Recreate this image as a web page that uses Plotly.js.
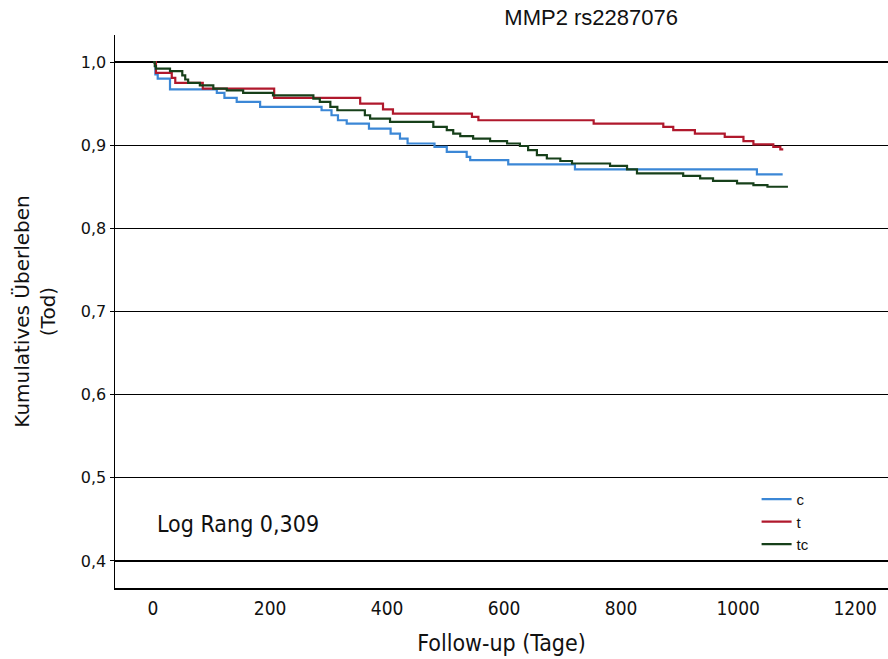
<!DOCTYPE html>
<html>
<head>
<meta charset="utf-8">
<script src="https://cdn.plot.ly/plotly-3.0.1.min.js"></script>
<style>
  html, body { margin: 0; padding: 0; background: #ffffff; }
  #chart { width: 888px; height: 659px; }
</style>
</head>
<body>
<div id="chart"></div>
<script>
// ---- data ----
const seriesNames = ["c", "t", "tc"];

const cDays = [0, 4, 8, 29, 109, 122, 143, 183, 288, 305, 316, 331, 369, 406, 422, 435, 481, 502, 536, 542, 607, 721, 1032, 1076];
const cSurv = [1.0, 0.985, 0.980, 0.967, 0.963, 0.957, 0.952, 0.946, 0.942, 0.936, 0.930, 0.926, 0.920, 0.914, 0.908, 0.902, 0.898, 0.892, 0.886, 0.882, 0.877, 0.871, 0.865, 0.865];

const tDays = [0, 5, 32, 38, 85, 207, 354, 393, 410, 545, 556, 753, 872, 889, 926, 977, 1009, 1026, 1060, 1072, 1077];
const tSurv = [1.0, 0.987, 0.981, 0.975, 0.968, 0.957, 0.950, 0.943, 0.938, 0.934, 0.930, 0.926, 0.922, 0.918, 0.914, 0.910, 0.905, 0.901, 0.898, 0.895, 0.895];

const tcDays = [0, 3, 5, 29, 50, 55, 60, 80, 103, 126, 154, 205, 274, 285, 303, 315, 362, 371, 405, 479, 502, 513, 525, 547, 576, 605, 627, 641, 656, 673, 696, 716, 781, 810, 827, 906, 935, 957, 998, 1026, 1050, 1085];
const tcSurv = [1.0, 0.995, 0.992, 0.989, 0.984, 0.979, 0.975, 0.972, 0.968, 0.966, 0.963, 0.960, 0.956, 0.952, 0.946, 0.942, 0.936, 0.932, 0.928, 0.922, 0.918, 0.914, 0.911, 0.908, 0.905, 0.902, 0.899, 0.894, 0.888, 0.884, 0.881, 0.878, 0.875, 0.871, 0.866, 0.863, 0.860, 0.857, 0.854, 0.852, 0.850, 0.850];

const yTickVals = [0.4, 0.5, 0.6, 0.7, 0.8, 0.9, 1.0];
const xTickVals = [0, 200, 400, 600, 800, 1000, 1200];

const titleText = "MMP2 rs2287076";
const xTitle = "Follow-up (Tage)";
const yTitle = "Kumulatives Überleben<br>(Tod)";
const noteText = "Log Rang 0,309";

// ---- styling ----
const colors = ["#3b87d6", "#b0182c", "#17401a"];
const xs = [cDays, tDays, tcDays];
const ys = [cSurv, tSurv, tcSurv];

const traces = seriesNames.map((n, i) => ({
  type: "scatter",
  mode: "lines",
  name: n,
  x: xs[i],
  y: ys[i],
  line: { shape: "hv", color: colors[i], width: 2.2 },
  hoverinfo: "skip"
}));

const narrow = "'Liberation Sans Narrow', 'DejaVu Sans Condensed', 'Arial Narrow', sans-serif";
const arial = "'Liberation Sans', Arial, sans-serif";
const verdana = "'DejaVu Sans', Verdana, sans-serif";

const layout = {
  width: 888,
  height: 659,
  margin: { l: 115, r: 0, t: 35, b: 71, pad: 0, autoexpand: false },
  paper_bgcolor: "#ffffff",
  plot_bgcolor: "#ffffff",
  separators: ",.",
  showlegend: true,
  title: {
    text: titleText,
    font: { family: arial, size: 22, color: "#111111" },
    xref: "paper", x: 0.616, xanchor: "center",
    yref: "container", y: 0.973, yanchor: "middle"
  },
  xaxis: {
    range: [-65, 1256],
    tickvals: xTickVals,
    ticktext: xTickVals.map(String),
    showgrid: false,
    zeroline: false,
    showline: true,
    linecolor: "#000000",
    linewidth: 1.5,
    ticks: "",
    ticklabelstandoff: 3,
    tickfont: { family: narrow, size: 19, color: "#111111" },
    title: { text: xTitle, font: { family: narrow, size: 23, color: "#111111" }, standoff: 16 },
    fixedrange: true
  },
  yaxis: {
    range: [0.3675, 1.0325],
    tickvals: yTickVals,
    tickformat: ".1f",
    showgrid: true,
    gridcolor: "#000000",
    gridwidth: 1.2,
    zeroline: false,
    showline: true,
    linecolor: "#000000",
    linewidth: 1.5,
    ticks: "outside",
    ticklen: 4,
    tickcolor: "#000000",
    tickfont: { family: verdana, size: 16, color: "#111111" },
    title: { text: yTitle, font: { family: verdana, size: 20, color: "#111111" }, standoff: 20 },
    fixedrange: true
  },
  legend: {
    x: 0.83, xanchor: "left",
    y: 0.19, yanchor: "top",
    bgcolor: "rgba(0,0,0,0)",
    font: { family: arial, size: 15, color: "#111111" },
    tracegroupgap: 0,
    itemwidth: 30
  },
  annotations: [{
    text: noteText,
    xref: "paper", yref: "paper",
    x: 0.052, y: 0.1157,
    xanchor: "left", yanchor: "middle",
    showarrow: false,
    font: { family: narrow, size: 23, color: "#111111" }
  }]
};

Plotly.newPlot("chart", traces, layout, { displayModeBar: false, staticPlot: true });
</script>
</body>
</html>
